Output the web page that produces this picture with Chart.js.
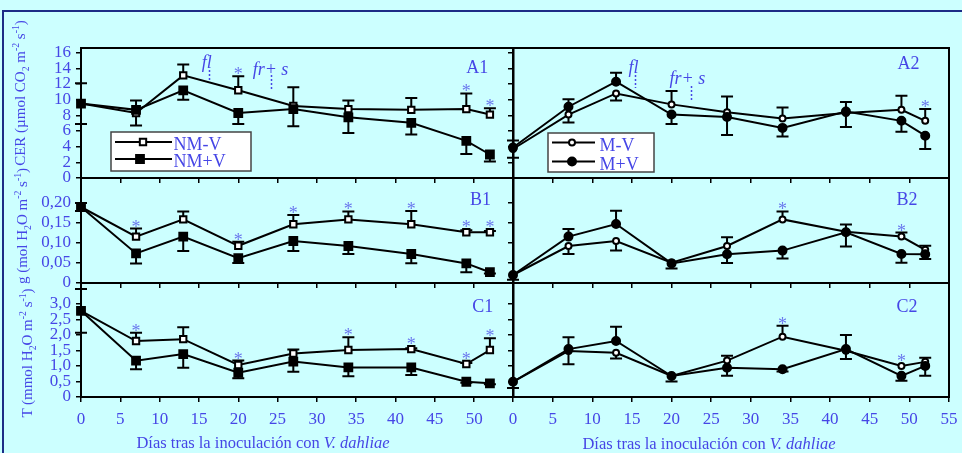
<!DOCTYPE html>
<html><head><meta charset="utf-8">
<script src="https://cdn.jsdelivr.net/npm/chart.js@4.4.0/dist/chart.umd.min.js"></script>
<style>
html,body{margin:0;padding:0;background:#ccffff;width:962px;height:453px;overflow:hidden;}
body{position:relative;}
#frame{position:absolute;left:2px;top:10px;width:958px;height:441px;border-top:2px solid #1c2c86;border-left:2px solid #1c2c86;}
canvas{position:absolute;}
.yt,.xt{position:absolute;font-family:"Liberation Serif",serif;color:#4646e6;white-space:nowrap;line-height:1;}
.yt{font-size:15px;transform:translate(-50%,-50%) rotate(-90deg);}
.xt{font-size:16.5px;transform:translate(-50%,-50%);}
sub,sup{font-size:65%;line-height:0;}
</style></head>
<body>
<div id="frame"></div>
<canvas id="cA1"></canvas><canvas id="cB1"></canvas><canvas id="cC1"></canvas>
<canvas id="cA2"></canvas><canvas id="cB2"></canvas><canvas id="cC2"></canvas>
<div class="yt" style="left:20px;top:93px">CER (µmol CO<sub>2</sub> m<sup>-2</sup> s<sup>-1</sup>)</div>
<div class="yt" style="left:22px;top:226px">g (mol H<sub>2</sub>O m<sup>-2</sup> s<sup>-1</sup>)</div>
<div class="yt" style="left:27px;top:353px">T (mmol H<sub>2</sub>O m<sup>-2</sup> s<sup>-1</sup>)</div>
<div class="xt" style="left:263px;top:443px">Días tras la inoculación con <i>V. dahliae</i></div>
<div class="xt" style="left:709px;top:444px">Días tras la inoculación con <i>V. dahliae</i></div>
<script>
// ---------- DATA ----------
const days = [0, 7, 13, 20, 27, 34, 42, 49, 52];
const seriesLabels = ['NM-V', 'NM+V', 'M-V', 'M+V'];

// CER (µmol CO2 m-2 s-1); errors: + = upper whisker, - = lower whisker
const cerNMminusV    = [9.5, 8.3, 13.1, 11.2, 9.2, 8.8, 8.7, 8.8, 8.1];
const cerNMminusVErr = [2.6, 1.6, 1.4, 1.8, 2.4, 1.1, 1.5, 2.0, 0.8];
const cerNMminusVSig = [0, 0, 0, 1, 0, 0, 0, 1, 1];
const cerNMplusV     = [9.5, 8.7, 11.2, 8.3, 8.8, 7.75, 7.05, 4.75, 3.0];
const cerNMplusVErr  = [-2.6, -2.0, -1.2, -1.4, -2.2, -2.0, -1.5, -1.7, -0.9];
const cerMminusV     = [3.7, 8.1, 10.8, 9.4, 8.4, 7.6, 8.3, 8.7, 7.3];
const cerMminusVErr  = [-1.1, -1.0, -0.9, 1.7, 2.0, 1.4, 1.4, 1.8, 1.5];
const cerMminusVSig  = [0, 0, 0, 0, 0, 0, 0, 0, 1];
const cerMplusV      = [3.9, 9.1, 12.3, 8.1, 7.8, 6.4, 8.5, 7.3, 5.4];
const cerMplusVErr   = [0.9, 0.95, 1.15, -1.2, -2.3, -1.1, -2.0, -1.4, -1.7];

// g (mol H2O m-2 s-1)
const gNMminusV    = [0.19, 0.116, 0.159, 0.093, 0.147, 0.159, 0.147, 0.127, 0.127];
const gNMminusVErr = [0.01, 0.02, 0.02, 0.01, 0.023, 0.02, 0.033, 0.005, 0.003];
const gNMminusVSig = [0, 1, 0, 1, 1, 1, 1, 1, 1];
const gNMplusV     = [0.19, 0.074, 0.116, 0.062, 0.105, 0.0925, 0.0725, 0.049, 0.027];
const gNMplusVErr  = [-0.01, -0.025, -0.036, -0.012, -0.025, -0.02, -0.023, -0.022, -0.003];
const gMminusV     = [0.02, 0.0925, 0.105, 0.051, 0.0925, 0.159, 0.128, 0.116, 0.083];
const gMminusVErr  = [0, -0.02, -0.024, 0, 0.022, 0.02, 0.018, 0.01, 0.01];
const gMminusVSig  = [0, 0, 0, 0, 0, 1, 0, 1, 0];
const gMplusV      = [0.02, 0.116, 0.1475, 0.049, 0.072, 0.081, 0.127, 0.0725, 0.072];
const gMplusVErr   = [-0.012, 0.019, 0.033, -0.013, -0.022, -0.02, -0.036, -0.022, -0.012];

// T (mmol H2O m-2 s-1)
const tNMminusV    = [2.77, 1.8, 1.86, 1.03, 1.4, 1.51, 1.54, 1.06, 1.51];
const tNMminusVErr = [0.7, 0.27, 0.38, 0.14, 0.13, 0.41, 0.03, 0.03, 0.38];
const tNMminusVSig = [0, 1, 0, 1, 0, 1, 1, 1, 1];
const tNMplusV     = [2.77, 1.17, 1.38, 0.78, 1.14, 0.95, 0.95, 0.49, 0.44];
const tNMplusVErr  = [-0.7, -0.28, -0.44, -0.18, -0.33, -0.28, -0.24, -0.03, -0.03];
const tMminusV     = [0.49, 1.48, 1.42, 0.68, 1.17, 1.94, 1.49, 1.0, 1.13];
const tMminusVErr  = [0, -0.43, -0.18, 0, 0.16, 0.35, -0.27, 0, 0.13];
const tMminusVSig  = [0, 0, 0, 0, 0, 1, 0, 1, 0];
const tMplusV      = [0.49, 1.54, 1.8, 0.675, 0.94, 0.89, 1.54, 0.68, 1.0];
const tMplusVErr   = [-0.2, 0.38, 0.46, -0.18, -0.26, -0.07, 0.45, -0.16, -0.32];

// Tick values / labels
const cerTickValues = [0, 2, 4, 6, 8, 10, 12, 14, 16];
const cerTickLabels = ['0', '2', '4', '6', '8', '10', '12', '14', '16'];
const gTickValues = [0, 0.05, 0.10, 0.15, 0.20];
const gTickLabels = ['0', '0,05', '0,10', '0,15', '0,20'];
const tTickValues = [0, 0.5, 1.0, 1.5, 2.0, 2.5, 3.0];
const tTickLabels = ['0', '0,5', '1,0', '1,5', '2,0', '2,5', '3,0'];
const dayTicksLeft = [0, 5, 10, 15, 20, 25, 30, 35, 40, 45, 50];
const dayTicksRight = [0, 5, 10, 15, 20, 25, 30, 35, 40, 45, 50, 55];

// ---------- STYLE ----------
const TXT = '#4646e6', STAR = '#6b78ee', FONT = 'Liberation Serif';
Chart.defaults.font.family = FONT;

const decorPlugin = {
  id: 'decor',
  beforeDatasetsDraw(chart, args, o) {
    const {ctx, chartArea: ca, scales: {x, y}} = chart;
    ctx.save();
    ctx.strokeStyle = '#000'; ctx.lineWidth = 2;
    ctx.strokeRect(ca.left, ca.top, ca.right - ca.left, ca.bottom - ca.top);
    chart.data.datasets.forEach(ds => {
      (ds.errs || []).forEach((e, i) => {
        if (!e) return;
        const px = x.getPixelForValue(ds.data[i].x);
        const p0 = y.getPixelForValue(ds.data[i].y);
        const p1 = y.getPixelForValue(ds.data[i].y + e);
        ctx.beginPath(); ctx.moveTo(px, p0); ctx.lineTo(px, p1);
        ctx.moveTo(px - 6, p1); ctx.lineTo(px + 6, p1); ctx.stroke();
      });
    });
    ctx.restore();
  },
  afterDatasetsDraw(chart, args, o) {
    const {ctx, chartArea: ca, scales: {x, y}} = chart;
    ctx.save();
    ctx.fillStyle = STAR; ctx.font = '18px ' + FONT; ctx.textAlign = 'center'; ctx.textBaseline = 'alphabetic';
    chart.data.datasets.forEach(ds => {
      (ds.sig || []).forEach((s, i) => {
        if (!s) return;
        const v = ds.data[i].y, e = ds.errs[i] || 0;
        const px = x.getPixelForValue(ds.data[i].x);
        const py = y.getPixelForValue(v);
        const cap = e > 0 ? y.getPixelForValue(v + e) : py;
        const cy = Math.min(cap, py - 3) - 6;
        ctx.fillText('*', px, cy + 10);
      });
    });
    ctx.fillStyle = TXT; ctx.textBaseline = 'middle';
    (o.labels || []).forEach(l => {
      ctx.font = (l.italic ? 'italic ' : '') + '18px ' + FONT;
      ctx.fillText(l.t, x.getPixelForValue(l.x), y.getPixelForValue(l.y));
    });
    ctx.strokeStyle = TXT; ctx.lineWidth = 1.5; ctx.setLineDash([2, 2]);
    (o.dots || []).forEach(d => {
      const px = Math.round(x.getPixelForValue(d.x)) + 0.5;
      ctx.beginPath(); ctx.moveTo(px, y.getPixelForValue(d.y0)); ctx.lineTo(px, y.getPixelForValue(d.y1)); ctx.stroke();
    });
    ctx.setLineDash([]);
    const lb = o.legend;
    if (lb) {
      const bx = ca.left + lb.x, by = ca.top + lb.y;
      ctx.fillStyle = '#fff'; ctx.fillRect(bx, by, lb.w, lb.h);
      ctx.strokeStyle = '#444'; ctx.lineWidth = 1.5; ctx.strokeRect(bx, by, lb.w, lb.h);
      chart.data.datasets.forEach((ds, k) => {
        const ry = by + lb.rows[k];
        ctx.strokeStyle = '#000'; ctx.lineWidth = 2;
        ctx.beginPath(); ctx.moveTo(bx + lb.line[0], ry); ctx.lineTo(bx + lb.line[1], ry); ctx.stroke();
        const mx = bx + lb.marker[k];
        ctx.fillStyle = ds.pointBackgroundColor; ctx.lineWidth = 2;
        ctx.beginPath();
        if (ds.pointStyle === 'rect') {
          const s = ds.pointRadius * Math.SQRT1_2;
          ctx.rect(mx - s, ry - s, 2 * s, 2 * s);
        } else {
          ctx.arc(mx, ry, ds.pointRadius, 0, Math.PI * 2);
        }
        ctx.fill(); ctx.stroke();
        ctx.fillStyle = TXT; ctx.font = '18px ' + FONT; ctx.textAlign = 'left'; ctx.textBaseline = 'middle';
        ctx.fillText(ds.label, bx + lb.textX, ry + lb.textDy);
      });
    }
    ctx.restore();
  }
};

function series(label, values, errs, sig, style, open) {
  return {label, values, errs, sig, style, open};
}

function makeConfig(c) {
  const tickFont = {family: FONT, size: 17};
  return {
    type: 'line',
    data: {
      datasets: c.series.map((s, k) => ({
        label: s.label,
        data: days.map((d, i) => ({x: d, y: s.values[i]})),
        errs: s.errs, sig: s.sig,
        borderColor: '#000', borderWidth: 2, tension: 0, fill: false, clip: false,
        pointStyle: s.style,
        pointRadius: s.style === 'rect' ? (s.open ? 4.5 : 5.5) : (s.open ? 3 : 4),
        pointBackgroundColor: s.open ? '#fff' : '#000',
        pointBorderColor: '#000', pointBorderWidth: 2,
        order: s.open ? 1 : 0
      }))
    },
    options: {
      responsive: false, maintainAspectRatio: false, animation: false, events: [],
      devicePixelRatio: 1,
      layout: {padding: {top: c.padT, right: c.padR, left: 0, bottom: 0}},
      plugins: {legend: {display: false}, tooltip: {enabled: false}, decor: c.decor},
      scales: {
        x: {
          type: 'linear', min: 0, max: 55,
          afterBuildTicks: s => { s.ticks = c.xTicks.map(v => ({value: v})); },
          afterFit: s => { s.height = c.xh; s.paddingLeft = 0; s.paddingRight = 0; },
          ticks: {display: c.showX, color: TXT, font: tickFont, padding: 7, maxRotation: 0, autoSkip: false,
                  callback: v => String(v)},
          grid: {drawOnChartArea: false, drawTicks: true, tickLength: 5, color: '#000', lineWidth: 1.5},
          border: {display: true, color: '#000', width: 2}
        },
        y: {
          type: 'linear', min: 0, max: c.ymax,
          afterBuildTicks: s => { s.ticks = c.yTicks.map(v => ({value: v})); },
          afterFit: s => { s.width = c.yw; s.paddingTop = 0; s.paddingBottom = 0; },
          ticks: {display: c.showY, color: TXT, font: tickFont, padding: 5, autoSkip: false,
                  callback: (v, i) => c.yLabels[i]},
          grid: {drawOnChartArea: false, drawTicks: true, tickLength: 5, color: '#000', lineWidth: 1.5},
          border: {display: true, color: '#000', width: 2}
        }
      }
    },
    plugins: [decorPlugin]
  };
}

function buildPanel(id, rect, c) {
  const cv = document.getElementById(id);
  let W = Math.round((rect.r - rect.l) + c.yw + c.padR), H = Math.round((rect.b - rect.t) + c.padT + c.xh);
  cv.width = W; cv.height = H; cv.style.width = W + 'px'; cv.style.height = H + 'px';
  let chart = new Chart(cv, makeConfig(c));
  let ca = chart.chartArea;
  const dw = (rect.r - rect.l) - (ca.right - ca.left), dh = (rect.b - rect.t) - (ca.bottom - ca.top);
  if (Math.abs(dw) >= 0.5 || Math.abs(dh) >= 0.5) {
    chart.destroy();
    W = Math.round(W + dw); H = Math.round(H + dh);
    cv.width = W; cv.height = H; cv.style.width = W + 'px'; cv.style.height = H + 'px';
    chart = new Chart(cv, makeConfig(c));
    ca = chart.chartArea;
  }
  cv.style.left = (rect.l - ca.left) + 'px';
  cv.style.top = (rect.t - ca.top) + 'px';
}

const L = {l: 81, r: 513}, R = {l: 513, r: 949};
const rowA = {t: 48, b: 178}, rowB = {t: 178, b: 283}, rowC = {t: 283, b: 397};
const cerMax = 16.6, gMax = 0.2625, tMax = 3.666;

const leftBase = {yw: 60, padR: 4, padT: 14, showY: true, xTicks: dayTicksLeft};
const rightBase = {yw: 12, padR: 12, padT: 14, showY: false, xTicks: dayTicksRight};

buildPanel('cA1', {...L, ...rowA}, {...leftBase, xh: 14, showX: false, ymax: cerMax, yTicks: cerTickValues, yLabels: cerTickLabels,
  series: [series(seriesLabels[0], cerNMminusV, cerNMminusVErr, cerNMminusVSig, 'rect', true),
           series(seriesLabels[1], cerNMplusV, cerNMplusVErr, null, 'rect', false)],
  decor: {labels: [{t: 'A1', x: 50.4, y: 14.0}, {t: 'fl', x: 16.0, y: 14.6, italic: true}, {t: 'fr+ s', x: 24.1, y: 13.7, italic: true}],
          dots: [{x: 16.3, y0: 13.8, y1: 12.3}, {x: 24.15, y0: 13.15, y1: 11.15}],
          legend: {x: 30, y: 84, w: 140, h: 39, rows: [10, 27], line: [4, 61], marker: [32, 29], textX: 62.5, textDy: 3.5}}});

buildPanel('cB1', {...L, ...rowB}, {...leftBase, xh: 14, showX: false, ymax: gMax, yTicks: gTickValues, yLabels: gTickLabels,
  series: [series(seriesLabels[0], gNMminusV, gNMminusVErr, gNMminusVSig, 'rect', true),
           series(seriesLabels[1], gNMplusV, gNMplusVErr, null, 'rect', false)],
  decor: {labels: [{t: 'B1', x: 50.8, y: 0.206}]}});

buildPanel('cC1', {...L, ...rowC}, {...leftBase, xh: 36, showX: true, ymax: tMax, yTicks: tTickValues, yLabels: tTickLabels,
  series: [series(seriesLabels[0], tNMminusV, tNMminusVErr, tNMminusVSig, 'rect', true),
           series(seriesLabels[1], tNMplusV, tNMplusVErr, null, 'rect', false)],
  decor: {labels: [{t: 'C1', x: 51.1, y: 2.9}]}});

buildPanel('cA2', {...R, ...rowA}, {...rightBase, xh: 14, showX: false, ymax: cerMax, yTicks: cerTickValues, yLabels: cerTickLabels,
  series: [series(seriesLabels[2], cerMminusV, cerMminusVErr, cerMminusVSig, 'circle', true),
           series(seriesLabels[3], cerMplusV, cerMplusVErr, null, 'circle', false)],
  decor: {labels: [{t: 'A2', x: 49.9, y: 14.56}, {t: 'fl', x: 15.2, y: 14.0, italic: true}, {t: 'fr+ s', x: 22.0, y: 12.6, italic: true}],
          dots: [{x: 15.4, y0: 13.15, y1: 11.5}, {x: 22.5, y0: 11.75, y1: 9.9}],
          legend: {x: 35, y: 85, w: 106, h: 39, rows: [9.5, 28.5], line: [4, 47], marker: [24, 24], textX: 51.5, textDy: 3.5}}});

buildPanel('cB2', {...R, ...rowB}, {...rightBase, xh: 14, showX: false, ymax: gMax, yTicks: gTickValues, yLabels: gTickLabels,
  series: [series(seriesLabels[2], gMminusV, gMminusVErr, gMminusVSig, 'circle', true),
           series(seriesLabels[3], gMplusV, gMplusVErr, null, 'circle', false)],
  decor: {labels: [{t: 'B2', x: 49.7, y: 0.206}]}});

buildPanel('cC2', {...R, ...rowC}, {...rightBase, xh: 36, showX: true, ymax: tMax, yTicks: tTickValues, yLabels: tTickLabels,
  series: [series(seriesLabels[2], tMminusV, tMminusVErr, tMminusVSig, 'circle', true),
           series(seriesLabels[3], tMplusV, tMplusVErr, null, 'circle', false)],
  decor: {labels: [{t: 'C2', x: 49.7, y: 2.9}]}});
</script>
</body></html>
